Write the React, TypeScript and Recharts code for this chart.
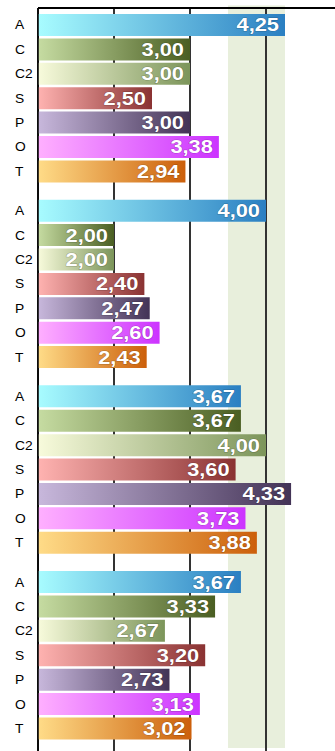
import React from 'react';
import { BarChart, Bar, XAxis, YAxis, CartesianGrid, LabelList, ReferenceArea } from 'recharts';

const groups = ['G1', 'G2', 'G3', 'G4'];
const seriesKeys = ['A', 'C', 'C2', 'S', 'P', 'O', 'T'];
const valuesA = [4.25, 4.0, 3.67, 3.67];
const valuesC = [3.0, 2.0, 3.67, 3.33];
const valuesC2 = [3.0, 2.0, 4.0, 2.67];
const valuesS = [2.5, 2.4, 3.6, 3.2];
const valuesP = [3.0, 2.47, 4.33, 2.73];
const valuesO = [3.38, 2.6, 3.73, 3.13];
const valuesT = [2.94, 2.43, 3.88, 3.02];
const xTicks = [1, 2, 3, 4, 5];
const bandRange = [3.5, 4.25];

const seriesValues: Record<string, number[]> = {
  A: valuesA, C: valuesC, C2: valuesC2, S: valuesS, P: valuesP, O: valuesO, T: valuesT,
};

const gradients: Record<string, [string, string]> = {
  A: ['#a8fcff', '#2a7fc2'],
  C: ['#c6dca2', '#4a5e22'],
  C2: ['#f8fbdc', '#7c955a'],
  S: ['#ffb3b1', '#8a3232'],
  P: ['#c8b8dc', '#433356'],
  O: ['#ffb0ff', '#cc33ff'],
  T: ['#ffdc88', '#cc5f0a'],
};

const data = groups.map((g, i) => {
  const row: Record<string, any> = { group: g };
  seriesKeys.forEach((k) => { row[k] = seriesValues[k][i]; });
  return row;
});

const makeLabel = (name: string) => (props: any) => {
  const { x, y, width, height, value } = props;
  const cy = y + height / 2;
  const xr = x + width - 6;
  const lx = 15;
  return (
    <g>
      <text x={lx} y={cy} dy={4.5} fontFamily="'Liberation Sans', Arial, sans-serif" fontSize={12} fill="#000"
        textAnchor="start" transform={`translate(${lx},0) scale(1.15,1) translate(${-lx},0)`}>
        {name}
      </text>
      <text x={xr} y={cy} dy={6.5} fontFamily="'Liberation Sans', Arial, sans-serif" fontWeight="bold" fontSize={18.5}
        fill="#fff" stroke="rgba(0,0,0,0.25)" strokeWidth={1} paintOrder="stroke" textAnchor="end"
        transform={`translate(${xr},0) scale(1.18,1) translate(${-xr},0)`}>
        {Number(value).toFixed(2).replace('.', ',')}
      </text>
    </g>
  );
};

const emptyTick = () => <g />;

export default function App() {
  return (
    <div style={{ position: 'absolute', left: 0, top: 0, width: 335, height: 751, overflow: 'hidden', background: '#fff' }}>
      <BarChart width={350} height={770} data={data} layout="vertical"
        margin={{ top: -22, right: 8, left: 0, bottom: 10 }} barGap={2.4} barCategoryGap={8.6}>
        <defs>
          {seriesKeys.map((k) => (
            <linearGradient key={k} id={`grad-${k}`} x1="0" y1="0" x2="1" y2="0">
              <stop offset="0%" stopColor={gradients[k][0]} />
              <stop offset="100%" stopColor={gradients[k][1]} />
            </linearGradient>
          ))}
        </defs>
        <ReferenceArea x1={bandRange[0]} x2={bandRange[1]} fill="#e8efdc" fillOpacity={1} stroke="none" zIndex={-200} />
        <CartesianGrid horizontal={false} vertical stroke="#333" strokeWidth={2} />
        <XAxis type="number" orientation="top" domain={[1, 5]} ticks={xTicks} tick={emptyTick} tickLine={false}
          height={30} axisLine={{ stroke: '#000', strokeWidth: 2 }} />
        <YAxis type="category" dataKey="group" width={38} tick={false} tickLine={false}
          axisLine={{ stroke: '#000', strokeWidth: 1.5 }} padding={{ top: -2.6, bottom: 11.9 }} />
        {seriesKeys.map((k) => (
          <Bar key={k} dataKey={k} fill={`url(#grad-${k})`} isAnimationActive={false}>
            <LabelList dataKey={k} content={makeLabel(k)} />
          </Bar>
        ))}
      </BarChart>
    </div>
  );
}
